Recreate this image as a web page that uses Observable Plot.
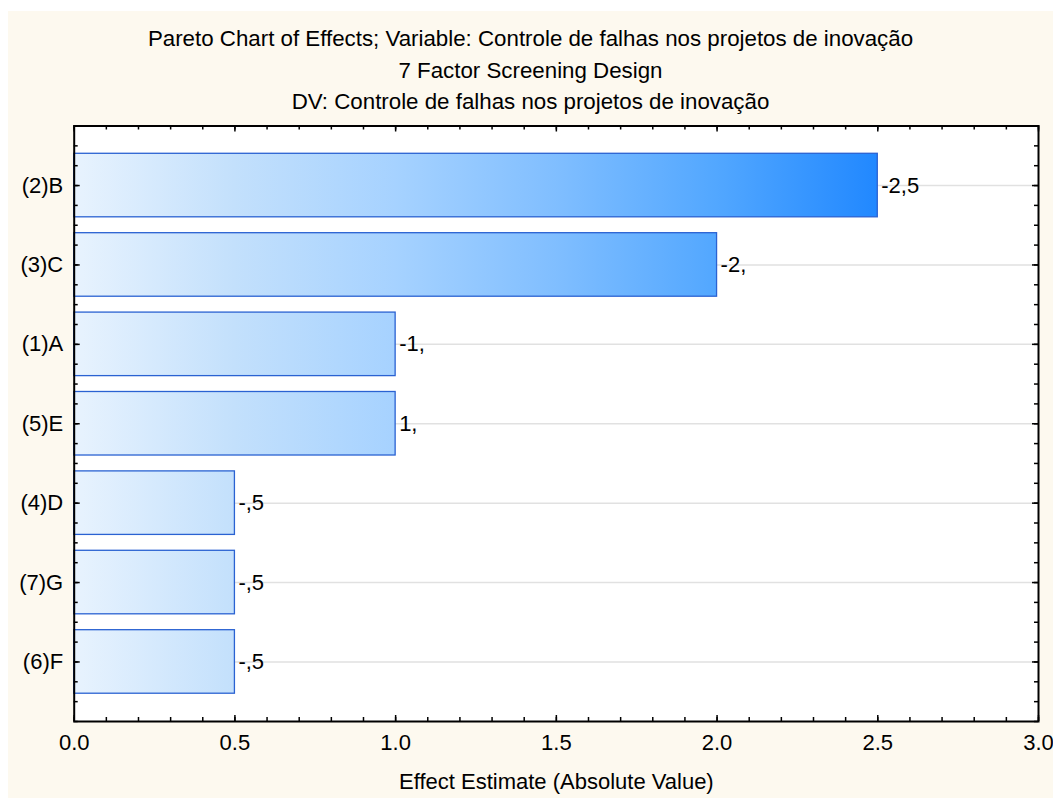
<!DOCTYPE html>
<html>
<head>
<meta charset="utf-8">
<script src="https://cdn.jsdelivr.net/npm/d3@7"></script>
<script src="https://cdn.jsdelivr.net/npm/@observablehq/plot@0.6"></script>
<style>
  html, body { margin: 0; padding: 0; background: #ffffff; }
  #sheet {
    position: absolute; left: 8px; top: 11px; width: 1045px; height: 787px;
    background: #fdf9ef; font-family: "Liberation Sans", Arial, sans-serif; color: #000;
  }
  #titles {
    position: absolute; left: 0; top: 12px; width: 1045px; text-align: center;
    font-size: 22.3px; line-height: 31.5px;
  }
  #chart { position: absolute; left: 0; top: 104px; }
</style>
</head>
<body>
<div id="sheet">
  <div id="titles"></div>
  <div id="chart"></div>
</div>
<script>
// Effects sorted by absolute size, as listed in the Pareto chart
const factors = ["(2)B", "(3)C", "(1)A", "(5)E", "(4)D", "(7)G", "(6)F"];
const effects = [-2.5, -2, -1, 1, -0.5, -0.5, -0.5];
const xMajorTicks = [0, 0.5, 1, 1.5, 2, 2.5, 3];
const titleLines = [
  "Pareto Chart of Effects; Variable: Controle de falhas nos projetos de inovação",
  "7 Factor Screening Design",
  "DV: Controle de falhas nos projetos de inovação"
];
const xLabel = "Effect Estimate (Absolute Value)";

// Horizontal gradient shared by all bars (light at zero, deep blue at the largest effect)
const gradientStops = [
  [0, "#e8f3fe"], [0.5, "#c3e0fc"], [1, "#a6d2ff"],
  [1.5, "#80beff"], [2, "#52a7ff"], [2.5, "#2188ff"]
];

// Statistica-style number labels: comma decimal, no leading zero, trailing comma for integers
function effectLabel(v) {
  const sign = v < 0 ? "-" : "";
  const a = Math.abs(v);
  const whole = Math.trunc(a);
  const frac = Math.round((a - whole) * 10);
  return sign + (whole === 0 ? "" : String(whole)) + "," + (frac === 0 ? "" : String(frac));
}

document.getElementById("titles").innerHTML = titleLines.map(t => `<div>${t}</div>`).join("");

const rows = factors.map((f, i) => ({factor: f, pos: i + 1, effect: effects[i], size: Math.abs(effects[i])}));
const positions = rows.map(d => d.pos);
const yMinor = d3.range(0.25, factors.length + 0.76, 0.25);
const xMinor = d3.ticks(0, 3, 30);

const W = 1045, H = 683;
const mT = 10.5, mB = 77, mL = 65.7, mR = 15;
const innerW = W - mL - mR, innerH = H - mT - mB;

const chart = Plot.plot({
  width: W,
  height: H,
  marginTop: mT, marginBottom: mB, marginLeft: mL, marginRight: mR,
  style: {background: "transparent", fontFamily: "'Liberation Sans', Arial, sans-serif", fontSize: "22px", color: "#000", overflow: "visible"},
  x: {domain: [0, 3], axis: null},
  y: {domain: [0.25, factors.length + 0.75], reverse: true, axis: null},
  marks: [
    Plot.frame({fill: "#ffffff", stroke: "none"}),
    // light grid lines at each factor
    Plot.ruleY(positions, {y: d => d, stroke: "#e1e1e1", strokeWidth: 1.5}),
    // bars
    Plot.rectX(rows, {
      x1: 0, x2: "size",
      y1: d => d.pos - 0.4, y2: d => d.pos + 0.4,
      fill: "url(#effectFill)", stroke: "#2a62d2", strokeWidth: 1.3
    }),
    // value labels at bar ends
    Plot.text(rows, {x: "size", y: "pos", text: d => effectLabel(d.effect), textAnchor: "start", dx: 3.5, fill: "#000"}),
    // factor labels
    Plot.text(rows, {y: "pos", text: "factor", frameAnchor: "left", textAnchor: "end", dx: -11, fill: "#000"}),
    // x tick labels
    Plot.text(xMajorTicks, {x: d => d, text: d => d3.format(".1f")(d), frameAnchor: "bottom", dy: 28, fill: "#000"}),
    // x axis title
    Plot.text([xLabel], {text: d => d, frameAnchor: "bottom", dy: 67, fill: "#000"}),
    // inward ticks on all four sides
    Plot.tickX(xMinor, {x: d => d, insetTop: innerH - 4, stroke: "#000", strokeWidth: 1.5}),
    Plot.tickX(xMajorTicks, {x: d => d, insetTop: innerH - 6, stroke: "#000", strokeWidth: 1.5}),
    Plot.tickX(xMinor, {x: d => d, insetBottom: innerH - 4, stroke: "#000", strokeWidth: 1.5}),
    Plot.tickX(xMajorTicks, {x: d => d, insetBottom: innerH - 6, stroke: "#000", strokeWidth: 1.5}),
    Plot.tickY(yMinor, {y: d => d, insetRight: innerW - 4, stroke: "#000", strokeWidth: 1.5}),
    Plot.tickY(positions, {y: d => d, insetRight: innerW - 6, stroke: "#000", strokeWidth: 1.5}),
    Plot.tickY(yMinor, {y: d => d, insetLeft: innerW - 4, stroke: "#000", strokeWidth: 1.5}),
    Plot.tickY(positions, {y: d => d, insetLeft: innerW - 6, stroke: "#000", strokeWidth: 1.5}),
    Plot.frame({stroke: "#000", strokeWidth: 2})
  ]
});

// Gradient in plot coordinates so each bar shows the part matching its length
const xs = chart.scale("x");
const maxSize = d3.max(rows, d => d.size);
const defs = d3.select(chart).insert("defs", ":first-child");
const grad = defs.append("linearGradient")
  .attr("id", "effectFill")
  .attr("gradientUnits", "userSpaceOnUse")
  .attr("x1", xs.apply(0)).attr("x2", xs.apply(maxSize))
  .attr("y1", 0).attr("y2", 0);
gradientStops.forEach(([v, c]) => {
  grad.append("stop").attr("offset", v / maxSize).attr("stop-color", c);
});

document.getElementById("chart").appendChild(chart);
</script>
</body>
</html>
